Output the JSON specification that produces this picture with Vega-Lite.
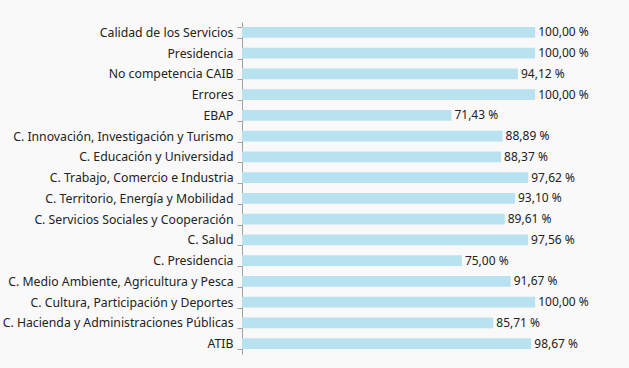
{
  "$schema": "https://vega.github.io/schema/vega-lite/v6.json",
  "width": 387,
  "height": 332,
  "autosize": {"type": "none"},
  "padding": {"left": 242, "top": 22, "right": 0, "bottom": 14},
  "background": "#f9f9f9",
  "config": {"view": {"stroke": null}, "font": "Noto Sans"},
  "data": {
    "values": [
      {"cat": "Calidad de los Servicios", "v": 100.00},
      {"cat": "Presidencia", "v": 100.00},
      {"cat": "No competencia CAIB", "v": 94.12},
      {"cat": "Errores", "v": 100.00},
      {"cat": "EBAP", "v": 71.43},
      {"cat": "C. Innovación, Investigación y Turismo", "v": 88.89},
      {"cat": "C. Educación y Universidad", "v": 88.37},
      {"cat": "C. Trabajo, Comercio e Industria", "v": 97.62},
      {"cat": "C. Territorio, Energía y Mobilidad", "v": 93.10},
      {"cat": "C. Servicios Sociales y Cooperación", "v": 89.61},
      {"cat": "C. Salud", "v": 97.56},
      {"cat": "C. Presidencia", "v": 75.00},
      {"cat": "C. Medio Ambiente, Agricultura y Pesca", "v": 91.67},
      {"cat": "C. Cultura, Participación y Deportes", "v": 100.00},
      {"cat": "C. Hacienda y Administraciones Públicas", "v": 85.71},
      {"cat": "ATIB", "v": 98.67}
    ]
  },
  "transform": [
    {"calculate": "replace(format(datum.v, '.2f'), '.', ',') + ' %'", "as": "lbl"}
  ],
  "encoding": {
    "y": {
      "field": "cat",
      "type": "nominal",
      "sort": null,
      "scale": {"paddingInner": 0.47, "paddingOuter": 0.235},
      "axis": {
        "title": null,
        "labelFontSize": 12.25,
        "labelColor": "#222222",
        "labelPadding": 4,
        "tickBand": "extent",
        "tickSize": 5,
        "tickColor": "#a0a0a0",
        "domainColor": "#a0a0a0",
        "labelLimit": 300
      }
    },
    "x": {
      "field": "v",
      "type": "quantitative",
      "scale": {"domain": [0, 132], "nice": false},
      "axis": null
    }
  },
  "layer": [
    {"mark": {"type": "bar", "color": "#b9e2f0"}},
    {
      "mark": {"type": "text", "align": "left", "dx": 3, "fontSize": 12, "color": "#222222"},
      "encoding": {"text": {"field": "lbl"}}
    }
  ]
}
